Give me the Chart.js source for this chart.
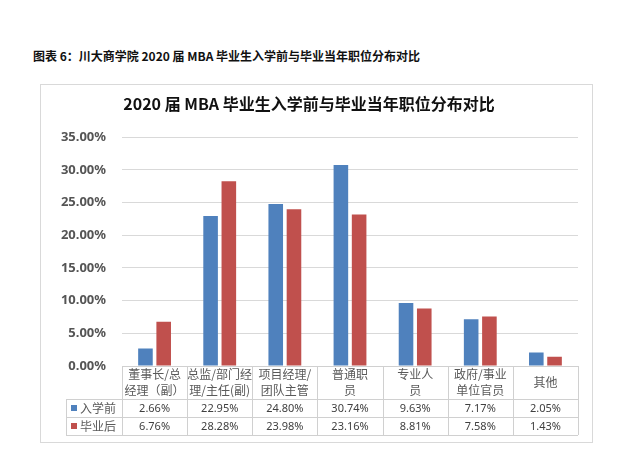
<!DOCTYPE html>
<html>
<head>
<meta charset="utf-8">
<script src="https://cdn.jsdelivr.net/npm/chart.js@4/dist/chart.umd.min.js"></script>
<style>
  html, body { margin: 0; padding: 0; background: #fff; width: 629px; height: 457px; overflow: hidden; }
  #heading { position: absolute; left: 33px; top: 47px; font: bold 12px "Noto Sans CJK SC", "Noto Sans", sans-serif; color: #111; white-space: nowrap; line-height: 18px; }
  #frame { position: absolute; left: 40px; top: 84px; width: 553px; height: 359px; box-sizing: border-box; border: 1px solid #d9d9d9; pointer-events: none; }
  #c { position: absolute; left: 40px; top: 84px; }
</style>
</head>
<body>
<div id="heading">图表 6：川大商学院 2020 届 MBA 毕业生入学前与毕业当年职位分布对比</div>
<canvas id="c" width="552" height="358"></canvas>
<div id="frame"></div>
<script>
// ---- data ----
const chartTitle = '2020 届 MBA 毕业生入学前与毕业当年职位分布对比';
const categories = [
  ['董事长/总', '经理（副）'],
  ['总监/部门经', '理/主任(副)'],
  ['项目经理/', '团队主管'],
  ['普通职', '员'],
  ['专业人', '员'],
  ['政府/事业', '单位官员'],
  ['其他']
];
const seriesNames = ['入学前', '毕业后'];
const beforeValues = [2.66, 22.95, 24.80, 30.74, 9.63, 7.17, 2.05];
const afterValues = [6.76, 28.28, 23.98, 23.16, 8.81, 7.58, 1.43];
const seriesColors = ['#4F81BD', '#C0504D'];
const yMax = 35;
const yStep = 5;

const fmt = v => v.toFixed(2) + '%';

const tablePlugin = {
  id: 'dataTable',
  afterDraw(chart) {
    const { ctx, chartArea } = chart;
    const { left, right, bottom } = chartArea;
    const n = categories.length;
    const w = (right - left) / n;
    const hdrH = 33, rowH = 18;
    const legLeft = left - 56;
    const end = bottom + hdrH + 2 * rowH;
    ctx.save();
    ctx.strokeStyle = '#d0d0d0';
    ctx.lineWidth = 1;
    const hl = (x1, x2, y) => { ctx.beginPath(); ctx.moveTo(x1, Math.round(y) + 0.5); ctx.lineTo(x2, Math.round(y) + 0.5); ctx.stroke(); };
    const vl = (x, y1, y2) => { ctx.beginPath(); ctx.moveTo(Math.round(x) + 0.5, y1); ctx.lineTo(Math.round(x) + 0.5, y2); ctx.stroke(); };
    hl(left, right, bottom);
    hl(legLeft, right, bottom + hdrH);
    hl(legLeft, right, bottom + hdrH + rowH);
    hl(legLeft, right, end);
    for (let i = 0; i <= n; i++) vl(left + i * w, bottom, end);
    vl(legLeft, bottom + hdrH, end);

    // header (category) labels
    ctx.fillStyle = '#595959';
    ctx.textAlign = 'center';
    ctx.textBaseline = 'middle';
    ctx.font = '12px "Noto Sans CJK SC", sans-serif';
    const xs = chart.scales.x;
    categories.forEach((lines, i) => {
      const cx = xs.getPixelForValue(i);
      const cy = bottom + hdrH / 2;
      const lh = 16;
      const y0 = cy - (lines.length - 1) * lh / 2;
      lines.forEach((t, k) => ctx.fillText(t, cx, y0 + k * lh));
    });
    // rows
    const rows = [beforeValues, afterValues];
    rows.forEach((vals, r) => {
      const cy = bottom + hdrH + rowH * r + rowH / 2;
      // legend key
      ctx.fillStyle = seriesColors[r];
      ctx.fillRect(legLeft + 5, Math.round(cy) - 3, 6, 6);
      ctx.fillStyle = '#595959';
      ctx.textAlign = 'left';
      ctx.font = '12px "Noto Sans CJK SC", sans-serif';
      ctx.fillText(seriesNames[r], legLeft + 14, cy);
      ctx.textAlign = 'center';
      ctx.font = '11px "Noto Sans", sans-serif';
      ctx.fillStyle = '#404040';
      vals.forEach((v, i) => ctx.fillText(fmt(v), xs.getPixelForValue(i), cy + 0.5));
    });
    ctx.restore();
  }
};

const bgPlugin = {
  id: 'bg',
  beforeDraw(chart) {
    const ctx = chart.ctx;
    ctx.save();
    ctx.fillStyle = '#fff';
    ctx.fillRect(0, 0, chart.width, chart.height);
    ctx.restore();
  }
};

Chart.defaults.font.family = '"Noto Sans", "Noto Sans CJK SC", sans-serif';

new Chart(document.getElementById('c'), {
  type: 'bar',
  data: {
    labels: categories.map(l => l.join('')),
    datasets: [
      { label: seriesNames[0], data: beforeValues, backgroundColor: seriesColors[0], categoryPercentage: 0.56, barPercentage: 0.8 },
      { label: seriesNames[1], data: afterValues, backgroundColor: seriesColors[1], categoryPercentage: 0.56, barPercentage: 0.8 }
    ]
  },
  options: {
    responsive: false,
    animation: false,
    events: [],
    layout: { padding: { left: 0, right: 14, top: 0, bottom: 0 } },
    plugins: {
      legend: { display: false },
      tooltip: { enabled: false },
      title: {
        display: true,
        text: chartTitle,
        color: '#111',
        font: { size: 16, weight: 'bold', family: '"Noto Sans CJK SC", "Noto Sans", sans-serif' },
        padding: { top: 10, bottom: 24 }
      }
    },
    scales: {
      x: {
        grid: { display: false },
        border: { display: false },
        ticks: { display: false },
        afterFit(scale) { scale.height = 76; }
      },
      y: {
        min: 0,
        max: yMax,
        ticks: {
          stepSize: yStep,
          padding: 16,
          color: '#555',
          font: { size: 13, weight: 'bold' },
          callback: v => fmt(v)
        },
        grid: { color: '#d9d9d9', drawTicks: false },
        border: { display: false },
        afterFit(scale) { scale.width = 82; }
      }
    }
  },
  plugins: [bgPlugin, tablePlugin]
});
</script>
</body>
</html>
